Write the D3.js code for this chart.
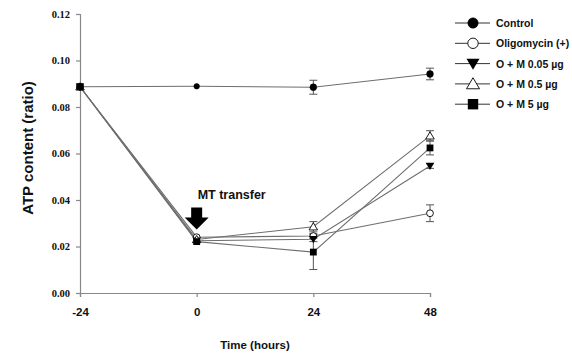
<!DOCTYPE html>
<html>
<head>
<meta charset="utf-8">
<script src="https://cdn.jsdelivr.net/npm/d3@7/dist/d3.min.js"></script>
<style>
  html, body { margin: 0; padding: 0; background: #fff; }
  svg { display: block; }
</style>
</head>
<body>
<svg id="chart" width="572" height="360"></svg>
<script>
// Time points (hours) and tick labels
const times = [-24, 0, 24, 48];
const xTicks = [-24, 0, 24, 48];
const yTicks = [0.00, 0.02, 0.04, 0.06, 0.08, 0.10, 0.12];

// Series: mean ATP ratio and error (SE) at each time point
const seriesNames = ["Control", "Oligomycin (+)", "O + M 0.05 \u00b5g", "O + M 0.5 \u00b5g", "O + M 5 \u00b5g"];
const control   = [0.0887, 0.0889, 0.0885, 0.0942];
const controlErr = [0, 0, 0.0030, 0.0025];
const oligo     = [0.0887, 0.0240, 0.0245, 0.0343];
const oligoErr  = [0, 0, 0.0010, 0.0036];
const om005     = [0.0887, 0.0225, 0.0231, 0.0546];
const om005Err  = [0, 0, 0.0010, 0.0010];
const om05      = [0.0887, 0.0230, 0.0285, 0.0676];
const om05Err   = [0, 0, 0.0022, 0.0022];
const om5       = [0.0887, 0.0221, 0.0176, 0.0624];
const om5Err    = [0, 0, 0.0075, 0.0030];

const series = [
  { name: seriesNames[0], values: control, err: controlErr, shape: "circle",   fill: "#000" },
  { name: seriesNames[1], values: oligo,   err: oligoErr,   shape: "circle",   fill: "#fff" },
  { name: seriesNames[2], values: om005,   err: om005Err,   shape: "triDown",  fill: "#000" },
  { name: seriesNames[3], values: om05,    err: om05Err,    shape: "triUp",    fill: "#fff" },
  { name: seriesNames[4], values: om5,     err: om5Err,     shape: "square",   fill: "#000" }
];

const svg = d3.select("#chart");
const margin = { left: 80, top: 14, right: 142, bottom: 67 };
const W = 572, H = 360;

const x = d3.scaleLinear().domain([-24, 48]).range([margin.left, W - margin.right]);
const y = d3.scaleLinear().domain([0, 0.12]).range([H - margin.bottom, margin.top]);

const axisColor = "#888";
const lineColor = "#6e6e6e";

// Y axis
const yAxis = svg.append("g")
  .attr("transform", `translate(${margin.left},0)`)
  .call(d3.axisLeft(y).tickValues(yTicks).tickFormat(d3.format(".2f")).tickSize(4).tickPadding(6));
yAxis.select(".domain").attr("stroke", axisColor).attr("stroke-width", 1.2);
yAxis.selectAll(".tick line").attr("stroke", axisColor).attr("stroke-width", 1.2);
yAxis.selectAll(".tick text")
  .attr("fill", "#111")
  .style("font-family", "'Liberation Serif', 'Times New Roman', serif")
  .style("font-weight", "bold")
  .style("font-size", "10.5px");

// X axis
const xAxis = svg.append("g")
  .attr("transform", `translate(0,${H - margin.bottom})`)
  .call(d3.axisBottom(x).tickValues(xTicks).tickFormat(d => String(d)).tickSize(4).tickPadding(11));
xAxis.select(".domain").attr("stroke", axisColor).attr("stroke-width", 1.2);
xAxis.selectAll(".tick line").attr("stroke", axisColor).attr("stroke-width", 1.2);
xAxis.selectAll(".tick text")
  .attr("fill", "#111")
  .style("font-family", "'Liberation Sans', Arial, sans-serif")
  .style("font-weight", "bold")
  .style("font-size", "11.5px");

// Axis titles
svg.append("text")
  .attr("x", x(12)).attr("y", 349)
  .attr("text-anchor", "middle")
  .style("font-family", "'Liberation Sans', Arial, sans-serif")
  .style("font-weight", "bold").style("font-size", "11.5px")
  .attr("fill", "#111")
  .text("Time (hours)");

svg.append("text")
  .attr("transform", `translate(33,148) rotate(-90)`)
  .attr("text-anchor", "middle")
  .style("font-family", "'Liberation Sans', Arial, sans-serif")
  .style("font-weight", "bold").style("font-size", "15px")
  .attr("fill", "#111")
  .text("ATP content (ratio)");

// Marker drawing
function marker(g, shape, fill, cx, cy, r) {
  if (shape === "circle") {
    g.append("circle").attr("cx", cx).attr("cy", cy).attr("r", r)
      .attr("fill", fill).attr("stroke", "#000").attr("stroke-width", fill === "#fff" ? 0.9 : 0.5);
  } else if (shape === "square") {
    g.append("rect").attr("x", cx - r).attr("y", cy - r).attr("width", 2 * r).attr("height", 2 * r)
      .attr("fill", fill);
  } else if (shape === "triDown") {
    const s = r * 1.25;
    g.append("path").attr("d", `M${cx - s},${cy - s * 0.75}L${cx + s},${cy - s * 0.75}L${cx},${cy + s * 0.95}Z`)
      .attr("fill", fill);
  } else if (shape === "triUp") {
    const s = r * 1.25;
    g.append("path").attr("d", `M${cx - s},${cy + s * 0.75}L${cx + s},${cy + s * 0.75}L${cx},${cy - s * 0.95}Z`)
      .attr("fill", fill).attr("stroke", "#000").attr("stroke-width", 0.9);
  }
}

const line = d3.line().x((d, i) => x(times[i])).y(d => y(d));

// Lines
const plot = svg.append("g");
series.forEach(s => {
  plot.append("path").datum(s.values)
    .attr("d", line).attr("fill", "none")
    .attr("stroke", lineColor).attr("stroke-width", 1.1);
});

// Error bars
series.forEach(s => {
  s.values.forEach((v, i) => {
    const e = s.err[i];
    if (!e) return;
    const cx = x(times[i]);
    const g = plot.append("g").attr("stroke", "#555").attr("stroke-width", 1);
    g.append("line").attr("x1", cx).attr("x2", cx).attr("y1", y(v - e)).attr("y2", y(v + e));
    g.append("line").attr("x1", cx - 4).attr("x2", cx + 4).attr("y1", y(v - e)).attr("y2", y(v - e));
    g.append("line").attr("x1", cx - 4).attr("x2", cx + 4).attr("y1", y(v + e)).attr("y2", y(v + e));
  });
});

// Markers
series.forEach(s => {
  s.values.forEach((v, i) => {
    const r = (s.name === "Control" && i === 1) ? 2.8 : 3.4;
    marker(plot, s.shape, s.fill, x(times[i]), y(v), r);
  });
});

// Treatment annotation: arrow and label at time 0
const ax = x(0), aTip = y(0.0222) - 12;
svg.append("path")
  .attr("d", `M${ax - 5.5},${aTip - 22}L${ax + 5.5},${aTip - 22}L${ax + 5.5},${aTip - 12}L${ax + 12},${aTip - 12}L${ax},${aTip}L${ax - 12},${aTip - 12}L${ax - 5.5},${aTip - 12}Z`)
  .attr("fill", "#000");
svg.append("text")
  .attr("x", ax + 1).attr("y", aTip - 30)
  .style("font-family", "'Liberation Sans', Arial, sans-serif")
  .style("font-weight", "bold").style("font-size", "12.5px")
  .attr("fill", "#111")
  .text("MT transfer");

// Legend
const legend = svg.append("g");
series.forEach((s, i) => {
  const ly = 23 + i * 20.3;
  legend.append("line").attr("x1", 455).attr("x2", 490).attr("y1", ly).attr("y2", ly)
    .attr("stroke", "#333").attr("stroke-width", 1);
  marker(legend, s.shape, s.fill, 473, ly, 5.2);
  legend.append("text")
    .attr("x", 496).attr("y", ly + 4)
    .style("font-family", "'Liberation Sans', Arial, sans-serif")
    .style("font-weight", "bold").style("font-size", "10.5px")
    .attr("fill", "#111")
    .text(s.name);
});
</script>
</body>
</html>
